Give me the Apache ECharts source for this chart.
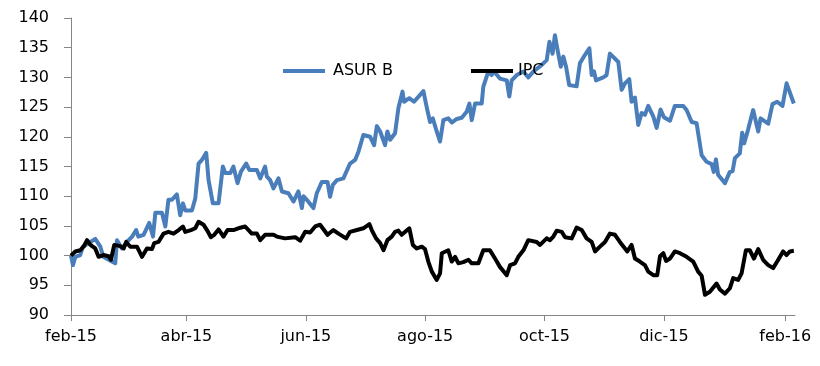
<!DOCTYPE html>
<html>
<head>
<meta charset="utf-8">
<script src="https://cdn.jsdelivr.net/npm/echarts@6/dist/echarts.min.js"></script>
<style>html,body{margin:0;padding:0;background:#fff;}#c{width:820px;height:366px;}</style>
</head>
<body>
<div id="c"></div>
<script>
// x values: days since 1 Feb 2015
const xTickDays = [0, 59, 120, 181, 242, 303, 365];
const xTickLabels = ['feb-15', 'abr-15', 'jun-15', 'ago-15', 'oct-15', 'dic-15', 'feb-16'];
const seriesNames = ['ASUR B', 'IPC'];

const asurDays = [0,1.0,2.2,4.7,6.1,12.4,15.0,16.5,20.9,22.6,23.5,26.0,28.6,31.2,33.3,34.4,37.1,40.0,41.9,43.1,46.5,48.2,49.8,51.6,54.1,55.8,57.2,58.4,61.8,63.5,65.2,66.9,69.1,70.3,72.5,75.4,77.6,78.8,81.4,83.0,85.1,86.8,89.5,91.2,95.0,96.7,99.2,100.1,101.8,103.5,106.0,107.8,111.1,113.7,116.2,118.0,118.8,120.5,123.9,125.6,128.2,131.1,132.4,133.8,135.9,139.2,142.6,145.2,146.9,149.4,152.9,154.9,156.3,158.0,160.5,161.7,163.1,165.6,167.3,169.4,170.2,172.9,175.3,180.1,182.1,183.5,184.9,186.9,188.6,190.3,192.8,194.6,197.1,199.7,202.2,203.6,204.8,206.5,209.9,210.7,213.3,215.0,216.2,219.2,222.7,224.0,225.2,227.8,231.2,233.7,236.3,240.6,243.1,244.5,246.1,247.3,248.5,250.3,251.6,253.0,254.6,258.4,260.1,262.7,264.9,266.1,267.3,268.3,272.0,273.7,275.4,279.7,281.4,283.1,285.3,286.5,288.2,289.9,291.6,293.3,295.0,297.6,299.3,301.3,303.0,306.1,308.6,312.9,314.6,317.2,319.7,322.3,324.8,327.4,328.5,329.6,330.7,334.2,336.7,338.1,339.3,341.8,343.0,344.0,346.1,348.6,351.2,352.4,356.3,358.5,360.9,363.6,365.7,369.4];
const asurValues = [100,98.4,99.8,100.1,101.5,102.8,101.5,99.8,99,98.7,102.6,101.2,102.3,103.2,104.3,103.2,103.5,105.5,103.2,107.2,107.2,104.9,109.4,109.4,110.3,106.8,108.8,107.6,107.6,109.6,115.5,116.1,117.3,112.7,108.8,108.8,115,113.9,113.9,115,112.2,114.1,115.5,114.4,114.4,113,115,113.3,112.7,111.3,113,110.8,110.5,109.1,110.8,108,110,109.4,108,110.5,112.4,112.4,109.9,111.9,112.7,113,115.5,116.1,117.5,120.3,120,118.6,121.8,120.9,118.6,120.9,119.5,120.6,124.8,127.6,125.9,126.5,125.9,127.7,124.5,122.5,123.1,120.9,119.2,122.8,123.1,122.4,123,123.2,124.2,125.6,122.8,125.6,125.6,128.4,131,130.4,131,129.8,129.5,126.8,129.5,130.4,131,130,131,132.1,132.9,136,134,137.1,134.9,131.8,133.5,131.8,128.7,128.5,132.4,133.8,134.9,130.4,131,129.5,130,130.4,134,132.6,127.9,129,129.7,125.9,126.6,122,124,123.7,125.2,123.4,121.5,124.6,123.3,122.7,125.2,125.2,124.5,122.5,122.3,116.9,115.8,115.4,114.1,116.2,113.6,112.2,114.1,114.2,116.4,117.2,120.7,118.9,121.3,124.5,120.9,123.1,122.2,125.5,125.9,125.2,129,125.6];

const ipcDays = [0,2.2,4.7,6.4,8.2,9.9,12.4,14.1,16.6,19.2,20.4,22.1,25.2,26.9,28.2,30.3,33.7,36.3,38.8,41.4,42.5,44.7,47.3,49.8,52.4,55.0,57.2,58.4,61.3,63.5,65.2,67.7,69.5,71.5,73.2,75.4,77.9,80.0,83.0,86.5,89.0,92.4,95.0,96.7,99.2,103.5,105.2,109.4,114.6,117.1,119.7,122.2,124.8,127.3,131.1,134.1,136.7,140.6,142.6,146.1,149.4,152.5,153.7,155.9,158.0,159.7,161.7,163.9,165.6,167.3,169.0,172.9,174.7,176.7,179.3,180.9,182.6,184.4,186.9,188.6,189.5,192.8,194.6,196.3,198.0,200.5,203.1,204.8,208.2,210.7,214.1,216.7,219.2,222.7,224.4,226.9,228.6,231.2,233.7,238.0,239.7,243.1,244.8,246.5,248.2,250.8,252.5,255.9,258.4,261.0,263.5,266.1,267.8,270.3,272.9,275.4,278.0,280.5,284.3,286.5,288.2,290.7,293.3,295.0,297.6,299.6,301.0,302.7,304.1,306.1,308.6,311.2,314.6,318.0,320.5,322.3,324.0,326.5,329.9,331.6,334.2,336.7,338.4,340.9,342.7,344.9,346.9,349.0,351.2,353.7,356.3,358.8,360.9,363.9,365.7,367.4,369.4];
const ipcValues = [100,100.7,100.9,101.5,102.6,101.8,101.2,99.8,100.1,99.9,99.3,101.8,101.6,101.2,102.3,101.5,101.5,99.8,101.2,101.1,102.1,102.3,103.7,104,103.7,104.3,104.9,104,104.3,104.6,105.7,105.2,104.3,103.1,103.5,104.4,103.2,104.3,104.3,104.7,104.9,103.7,103.7,102.6,103.5,103.5,103.2,102.9,103.1,102.5,104,103.9,104.9,105.2,103.5,104.3,103.7,102.9,104,104.3,104.6,105.3,104.3,102.9,102.1,100.9,102.6,103.2,104,104.2,103.5,104.6,101.8,101.2,101.5,101.1,99,97.3,95.9,97,100.4,100.9,99,99.8,98.7,98.9,99.3,98.7,98.7,100.9,100.9,99.5,98.1,96.7,98.4,98.7,99.8,100.9,102.6,102.3,101.8,102.9,102.6,103.2,104.2,104,103.1,102.9,104.7,104.3,102.9,102.3,100.7,101.5,102.3,103.7,103.5,102.3,100.7,101.8,99.5,99,98.4,97.3,96.7,96.7,99.9,100.4,99.1,99.5,100.7,100.4,99.8,99,97.3,96.6,93.4,93.9,95.3,94.3,93.6,94.5,96.2,95.9,97,100.9,100.9,99.5,101.1,99.3,98.4,97.9,99,100.7,100.1,100.7,100.8];

function pairs(xs, ys) { return xs.map((x, i) => [x, ys[i]]); }

const chart = echarts.init(document.getElementById('c'), null, { renderer: 'canvas' });
const font = 'DejaVu Sans';
chart.setOption({
  animation: false,
  backgroundColor: '#ffffff',
  grid: { left: 71, right: 25, top: 18, bottom: 51, containLabel: false },
  legend: {
    data: [
      { name: seriesNames[0], textStyle: { padding: [0, 0, 0, 3] } },
      { name: seriesNames[1], textStyle: { padding: [0, 0, 0, 0] } }
    ],
    left: 278, top: 58,
    icon: 'rect', itemWidth: 42, itemHeight: 4, itemGap: 78,
    textStyle: { fontFamily: font, fontSize: 16, color: '#000' }
  },
  xAxis: {
    type: 'value', min: 0, max: 370,
    splitLine: { show: false },
    axisLine: { lineStyle: { color: '#868686', width: 1 } },
    axisTick: { show: true, length: 6, customValues: xTickDays, lineStyle: { color: '#868686' } },
    axisLabel: {
      customValues: xTickDays, margin: 14,
      fontFamily: font, fontSize: 16, color: '#000',
      formatter: function (v) { const i = xTickDays.indexOf(v); return i >= 0 ? xTickLabels[i] : ''; }
    }
  },
  yAxis: {
    type: 'value', min: 90, max: 140, interval: 5,
    splitLine: { show: false },
    axisLine: { show: true, lineStyle: { color: '#868686', width: 1 } },
    axisTick: { show: true, length: 7, inside: false, lineStyle: { color: '#868686' } },
    axisLabel: { margin: 22, fontFamily: font, fontSize: 16, color: '#000' }
  },
  series: [
    { name: seriesNames[0], type: 'line', data: pairs(asurDays, asurValues), showSymbol: false, symbol: 'none',
      lineStyle: { width: 4, color: '#4a7ebb', join: 'round' }, itemStyle: { color: '#4a7ebb' } },
    { name: seriesNames[1], type: 'line', data: pairs(ipcDays, ipcValues), showSymbol: false, symbol: 'none',
      lineStyle: { width: 4, color: '#000000', join: 'round' }, itemStyle: { color: '#000000' } }
  ]
});
</script>
</body>
</html>
